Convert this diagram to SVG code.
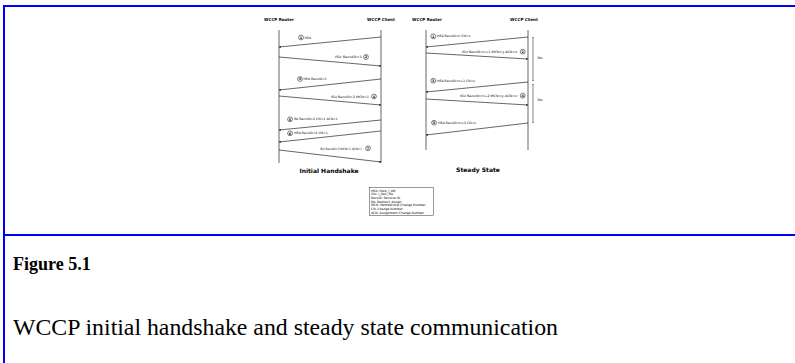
<svg xmlns="http://www.w3.org/2000/svg" width="795" height="363" viewBox="0 0 795 363">
<defs>
<marker id="ah" viewBox="0 0 6 6" refX="6" refY="3" markerWidth="3" markerHeight="3" orient="auto"><path d="M0,0 L6,3 L0,6 z" fill="#000"/></marker>
<marker id="ah2" viewBox="0 0 6 6" refX="6" refY="3" markerWidth="2.5" markerHeight="2.5" orient="auto-start-reverse"><path d="M0,0 L6,3 L0,6 z" fill="#000"/></marker>
</defs>
<style>
.frame{stroke:#0000ff;stroke-width:2;fill:none}
.life{stroke:#000;stroke-width:0.6}
.msg{stroke:#000;stroke-width:0.6;fill:none;marker-end:url(#ah)}
.hd{font-family:"DejaVu Sans",sans-serif;font-size:4px;font-weight:bold;fill:#000;text-anchor:middle}
.lb{font-family:"DejaVu Sans",sans-serif;font-size:3.2px;fill:#000}
.num{font-family:"DejaVu Sans",sans-serif;font-size:3.4px;font-weight:bold;fill:#000;text-anchor:middle}
.cir{fill:#fff;stroke:#000;stroke-width:0.5}
.ttl{font-family:"DejaVu Sans",sans-serif;font-size:6px;font-weight:bold;fill:#000;text-anchor:middle}
.lg{font-family:"DejaVu Sans",sans-serif;font-size:3.1px;fill:#000}
.cap1{font-family:"Liberation Serif","Times New Roman",serif;font-weight:bold;font-size:18px;fill:#000}
.cap2{font-family:"Liberation Serif","Times New Roman",serif;font-size:23.8px;fill:#000}
</style>
<rect width="795" height="363" fill="#fff"/>
<g id="frame">
<line class="frame" x1="3" y1="6" x2="795" y2="6"/>
<line class="frame" x1="4" y1="5" x2="4" y2="363"/>
<line class="frame" x1="4" y1="235" x2="795" y2="235"/>
</g>
<g id="initial-router"><text class="hd" x="279" y="21">WCCP Router</text><line class="life" x1="279" y1="30" x2="279" y2="163"/></g>
<g id="initial-client"><text class="hd" x="381" y="21">WCCP Client</text><line class="life" x1="381" y1="30" x2="381" y2="163"/></g>
<g id="steady-router"><text class="hd" x="427" y="21">WCCP Router</text><line class="life" x1="426" y1="30" x2="426" y2="150"/></g>
<g id="steady-client"><text class="hd" x="524" y="21">WCCP Client</text><line class="life" x1="528" y1="30" x2="528" y2="150"/></g>
<g id="connectors">
<line class="msg" x1="381" y1="37" x2="279" y2="47"/>
<line class="msg" x1="279" y1="57" x2="381" y2="66"/>
<line class="msg" x1="381" y1="79" x2="279" y2="90"/>
<line class="msg" x1="279" y1="96" x2="381" y2="105"/>
<line class="msg" x1="381" y1="120" x2="279" y2="130"/>
<line class="msg" x1="381" y1="131" x2="279" y2="142"/>
<line class="msg" x1="279" y1="150" x2="381" y2="162"/>
<line class="msg" x1="528" y1="37" x2="426" y2="47"/>
<line class="msg" x1="426" y1="53" x2="528" y2="59"/>
<line class="msg" x1="528" y1="82" x2="426" y2="92"/>
<line class="msg" x1="426" y1="99" x2="528" y2="105"/>
<line class="msg" x1="528" y1="123" x2="426" y2="135"/>
<line x1="533" y1="37" x2="533" y2="81" stroke="#000" stroke-width="0.5" marker-start="url(#ah2)" marker-end="url(#ah2)"/>
<line x1="533" y1="84" x2="533" y2="123" stroke="#000" stroke-width="0.5" marker-start="url(#ah2)" marker-end="url(#ah2)"/>
</g>
<g id="labels-initial">
<circle class="cir" cx="301" cy="37.5" r="2.4"/><text class="num" x="301" y="38.7">1</text><text class="lb" x="304.5" y="38.6">HEA</text>
<text class="lb" x="335" y="58.3" textLength="27" lengthAdjust="spacingAndGlyphs">ISU RecvID=1</text><circle class="cir" cx="366" cy="57" r="2.4"/><text class="num" x="366" y="58.2">2</text>
<circle class="cir" cx="300" cy="79" r="2.4"/><text class="num" x="300" y="80.2">3</text><text class="lb" x="303.5" y="80.1">HEA RecvID=1</text>
<text class="lb" x="331" y="97.6" textLength="38" lengthAdjust="spacingAndGlyphs">ISU RecvID=2 MCN=1</text><circle class="cir" cx="374" cy="96.5" r="2.4"/><text class="num" x="374" y="97.7">4</text>
<circle class="cir" cx="290" cy="119.3" r="2.4"/><text class="num" x="290" y="120.5">5</text><text class="lb" x="294" y="120.4">RA RecvID=2 CN=1 ACN=1</text>
<circle class="cir" cx="290" cy="133.3" r="2.4"/><text class="num" x="290" y="134.5">6</text><text class="lb" x="294" y="134.4">HEA RecvID=2 CN=1</text>
<text class="lb" x="320" y="149.5" textLength="42" lengthAdjust="spacingAndGlyphs">ISU RecvID=3 MCN=1 ACN=1</text><circle class="cir" cx="368" cy="148.3" r="2.4"/><text class="num" x="368" y="149.5">7</text>
<text class="ttl" x="329" y="173">Initial Handshake</text>
</g>
<g id="labels-steady">
<circle class="cir" cx="433.3" cy="36.3" r="2.4"/><text class="num" x="433.3" y="37.5">1</text><text class="lb" x="437" y="37.4">HEA RecvID=n CN=x</text>
<text class="lb" x="462" y="53" textLength="55" lengthAdjust="spacingAndGlyphs">ISU RecvID=n+1 MCN=y ACN=z</text><circle class="cir" cx="522.7" cy="51.7" r="2.4"/><text class="num" x="522.7" y="52.9">2</text>
<circle class="cir" cx="433.3" cy="80.7" r="2.4"/><text class="num" x="433.3" y="81.9">3</text><text class="lb" x="437" y="81.8">HEA RecvID=n+1 CN=x</text>
<text class="lb" x="460" y="97" textLength="57" lengthAdjust="spacingAndGlyphs">ISU RecvID=n+2 MCN=y ACN=z</text><circle class="cir" cx="522.7" cy="95.7" r="2.4"/><text class="num" x="522.7" y="96.9">4</text>
<circle class="cir" cx="434" cy="122.7" r="2.4"/><text class="num" x="434" y="123.9">5</text><text class="lb" x="438" y="123.8">HEA RecvID=n+2 CN=x</text>
<text class="lb" x="537" y="59">30s</text>
<text class="lb" x="537" y="101">30s</text>
<text class="ttl" x="478" y="172">Steady State</text>
</g>
<g id="legend">
<rect x="369.5" y="187.5" width="64" height="28" fill="#fff" stroke="#000" stroke-width="0.4"/>
<text class="lg" x="371" y="191.5">HEA: Here_I_AM</text>
<text class="lg" x="371" y="195.2">ISU: I_See_You</text>
<text class="lg" x="371" y="198.9">RecvID: Receive ID</text>
<text class="lg" x="371" y="202.6">RA: Redirect_Assign</text>
<text class="lg" x="371" y="206.3">MCN: Membership Change Number</text>
<text class="lg" x="371" y="210">CN: Change Number</text>
<text class="lg" x="371" y="213.7">ACN: Assignment Change Number</text>
</g>
<g id="caption">
<text class="cap1" x="13" y="270">Figure 5.1</text>
<text class="cap2" x="13" y="335">WCCP initial handshake and steady state communication</text>
</g>
</svg>
